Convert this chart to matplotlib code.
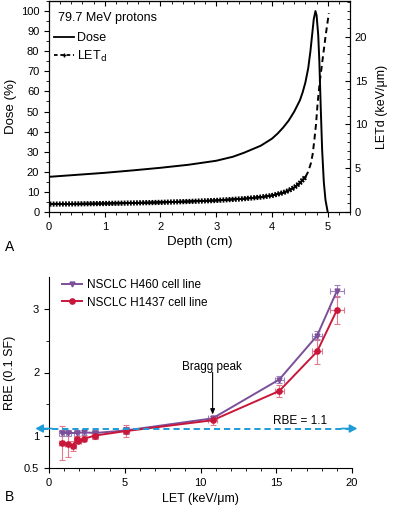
import matplotlib
matplotlib.use("Agg")
import matplotlib.pyplot as plt
from matplotlib.ticker import MultipleLocator, FixedLocator, NullFormatter
from matplotlib.lines import Line2D
import matplotlib.patheffects as pe

plt.rcParams['font.family'] = ['Liberation Sans', 'DejaVu Sans']
plt.rcParams['font.size'] = 8

# ---- Panel A data ----
dose_depth = [0.0, 0.5, 1.0, 1.5, 2.0, 2.5, 3.0, 3.3, 3.5, 3.8, 4.0, 4.1, 4.2, 4.3, 4.4, 4.5,
              4.55, 4.6, 4.65, 4.69, 4.72, 4.75, 4.78, 4.80, 4.83, 4.85, 4.875, 4.90, 4.93, 4.96, 5.0]
dose_pct = [17.5, 18.5, 19.5, 20.7, 22.0, 23.5, 25.5, 27.5, 29.5, 33.0, 36.5, 39.0, 42.0, 45.5, 50.0, 55.5,
            59.5, 64.5, 71.5, 80.0, 88.0, 96.0, 100.0, 98.0, 88.0, 75.0, 52.0, 31.0, 15.0, 6.0, 0.0]

let_depth = [0.0, 0.5, 1.0, 1.5, 2.0, 2.5, 3.0, 3.5, 3.8, 4.0, 4.2, 4.3, 4.4, 4.5, 4.6,
             4.65, 4.7, 4.73, 4.76, 4.79, 4.82, 4.86, 4.91, 4.96, 5.02]
let_d = [0.90, 0.93, 0.97, 1.03, 1.10, 1.20, 1.32, 1.52, 1.70, 1.88, 2.2, 2.45, 2.8, 3.3, 4.0,
         4.6, 5.6, 6.6, 8.2, 10.0, 12.5, 15.0, 17.5, 20.0, 22.7]

# ---- Panel B data ----
h460_let = [0.84, 1.27, 1.83, 2.31, 3.04, 5.08, 10.8, 15.2, 17.7, 19.0]
h460_rbe = [1.05, 1.05, 1.05, 1.06, 1.05, 1.09, 1.28, 1.89, 2.58, 3.28]
h460_yerr = [0.05, 0.05, 0.04, 0.04, 0.04, 0.05, 0.04, 0.05, 0.07, 0.10]
h460_xerr = [0.15, 0.15, 0.15, 0.15, 0.2, 0.2, 0.3, 0.3, 0.35, 0.45]

h1437_let = [0.84, 1.23, 1.60, 1.83, 1.94, 2.31, 3.04, 5.08, 10.8, 15.2, 17.7, 19.0]
h1437_rbe = [0.89, 0.875, 0.85, 0.95, 0.93, 0.96, 1.01, 1.08, 1.25, 1.71, 2.33, 2.98]
h1437_yerr = [0.27, 0.20, 0.08, 0.05, 0.04, 0.04, 0.06, 0.09, 0.07, 0.10, 0.20, 0.22]
h1437_xerr = [0.15, 0.15, 0.15, 0.15, 0.15, 0.15, 0.2, 0.2, 0.3, 0.3, 0.35, 0.45]

rbe_ref = 1.12

fig = plt.figure(figsize=(3.94, 5.09), dpi=100)

# ================= Panel A =================
ax1 = fig.add_axes([49/394, 1-212/509, (350-49)/394, (212-1)/509])
ax2 = ax1.twinx()

ax1.plot(dose_depth, dose_pct, color='black', lw=1.4, label='Dose')
split = 14
ax2.plot(let_depth[:split+1], let_d[:split+1], color='black', lw=1.3,
         path_effects=[pe.withTickedStroke(spacing=2.2, angle=90, length=0.55),
                       pe.withTickedStroke(spacing=2.2, angle=-90, length=0.55),
                       pe.Normal()])
ax2.plot(let_depth[split:], let_d[split:], color='black', lw=1.4, ls=(0, (3, 2)))

ax1.set_xlim(0, 5.4)
ax1.set_ylim(0, 105)
ax2.set_ylim(0, 24.1)

ax1.xaxis.set_major_locator(MultipleLocator(1))
ax1.xaxis.set_minor_locator(MultipleLocator(0.2))
ax1.yaxis.set_major_locator(MultipleLocator(10))
ax1.yaxis.set_minor_locator(MultipleLocator(5))
ax2.yaxis.set_major_locator(MultipleLocator(5))
ax2.yaxis.set_minor_locator(MultipleLocator(1))

ax1.tick_params(axis='both', which='major', length=3.5, width=0.8, direction='out', top=False)
ax1.tick_params(axis='both', which='minor', length=2.2, width=0.6, direction='out', top=False)
ax2.tick_params(axis='y', which='major', length=3.5, width=0.8, direction='in')
ax2.tick_params(axis='y', which='minor', length=2.2, width=0.6, direction='in')
secx = ax1.secondary_xaxis('top')
secx.xaxis.set_major_locator(MultipleLocator(1))
secx.xaxis.set_minor_locator(MultipleLocator(0.2))
secx.xaxis.set_major_formatter(NullFormatter())
secx.tick_params(which='major', direction='in', length=3.5, width=0.8)
secx.tick_params(which='minor', direction='in', length=2.2, width=0.6)

for a in (ax1, ax2):
    for s in a.spines.values():
        s.set_linewidth(0.8)
secx.spines['top'].set_linewidth(0.8)

ax1.set_xlabel('Depth (cm)', fontsize=9.5, labelpad=3)
ax1.set_ylabel('Dose (%)', fontsize=9.5, labelpad=3)
ax2.set_ylabel('LETd (keV/μm)', fontsize=9, labelpad=6)

ax1.text(0.03, 0.92, '79.7 MeV protons', transform=ax1.transAxes, fontsize=9,
         ha='left', va='center')
h_dose = Line2D([], [], color='black', lw=1.3)
h_let = Line2D([], [], color='black', lw=1.3, ls=(0, (2, 1.5)), marker='+', markersize=3)
ax1.legend([h_dose, h_let], ['Dose', 'LET$_\\mathrm{d}$'], loc='upper left',
           bbox_to_anchor=(0.0, 0.875), frameon=False, fontsize=9,
           handlelength=1.6, handletextpad=0.25, labelspacing=0.35, borderaxespad=0.0)

fig.text(5/394, 1-247/509, 'A', fontsize=10, ha='left', va='center')

# ================= Panel B =================
ax3 = fig.add_axes([49/394, 1-468/509, (352-49)/394, (468-277)/509])
c460 = '#7b4f9a'
c460e = '#9c82bf'
c1437 = '#c8173a'
c1437e = '#e07a8c'

ax3.errorbar(h460_let, h460_rbe, yerr=h460_yerr, xerr=h460_xerr, fmt='none',
             ecolor=c460e, elinewidth=0.8, capsize=2.2, capthick=0.8, zorder=2)
ax3.errorbar(h1437_let, h1437_rbe, yerr=h1437_yerr, xerr=h1437_xerr, fmt='none',
             ecolor=c1437e, elinewidth=0.8, capsize=2.2, capthick=0.8, zorder=2)
ax3.plot(h460_let, h460_rbe, color=c460, lw=1.4, marker='v', markersize=3.5,
         label='NSCLC H460 cell line', zorder=3)
ax3.plot(h1437_let, h1437_rbe, color=c1437, lw=1.4, marker='o', markersize=3.8,
         label='NSCLC H1437 cell line', zorder=4)

blue = '#1f9bd7'
ax3.plot([-0.45, 19.9], [rbe_ref, rbe_ref], color=blue, lw=1.4, ls=(0, (3.2, 2)),
         clip_on=False, zorder=5)
ax3.annotate('', xy=(-0.9, rbe_ref), xytext=(0.2, rbe_ref), annotation_clip=False,
             arrowprops=dict(arrowstyle='-|>,head_length=0.55,head_width=0.3',
                             color=blue, lw=1.2, shrinkA=0, shrinkB=0))
ax3.annotate('', xy=(20.35, rbe_ref), xytext=(19.3, rbe_ref), annotation_clip=False,
             arrowprops=dict(arrowstyle='-|>,head_length=0.55,head_width=0.3',
                             color=blue, lw=1.2, shrinkA=0, shrinkB=0))
ax3.text(16.6, 1.24, 'RBE = 1.1', fontsize=8.5, ha='center', va='center')

ax3.annotate('', xy=(10.8, 1.34), xytext=(10.8, 2.0),
             arrowprops=dict(arrowstyle='-|>,head_length=0.4,head_width=0.17',
                             color='black', lw=0.8, shrinkA=0, shrinkB=0))
ax3.text(10.75, 2.09, 'Bragg peak', fontsize=8.5, ha='center', va='center')

ax3.set_xlim(0, 20)
ax3.set_ylim(0.5, 3.5)
ax3.xaxis.set_major_locator(MultipleLocator(5))
ax3.xaxis.set_minor_locator(MultipleLocator(1))
ax3.yaxis.set_major_locator(FixedLocator([0.5, 1, 2, 3]))
ax3.yaxis.set_minor_locator(FixedLocator([1.5, 2.5]))
ax3.set_yticklabels(['0.5', '1', '2', '3'])
ax3.tick_params(axis='both', which='major', length=3.5, width=0.8, direction='out')
ax3.tick_params(axis='both', which='minor', length=2.2, width=0.6, direction='out')
ax3.spines['top'].set_visible(False)
ax3.spines['right'].set_visible(False)
for s in ('left', 'bottom'):
    ax3.spines[s].set_linewidth(0.8)
ax3.set_xlabel('LET (keV/μm)', fontsize=9, labelpad=4)
ax3.set_ylabel('RBE (0.1 SF)', fontsize=9, labelpad=6)
ax3.legend(loc='upper left', bbox_to_anchor=(0.02, 1.025), frameon=False, fontsize=8.5,
           handlelength=1.7, handletextpad=0.4, labelspacing=0.45, borderaxespad=0.2)

fig.text(5/394, 1-497/509, 'B', fontsize=10, ha='left', va='center')

fig.savefig('out.png', dpi=100)
